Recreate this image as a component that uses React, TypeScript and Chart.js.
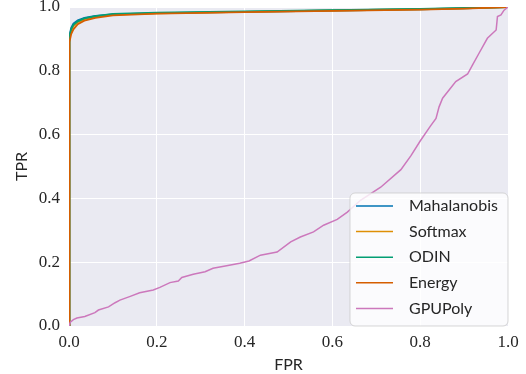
import React, { useEffect, useRef } from "react";
import { Chart, registerables } from "chart.js";

Chart.register(...registerables);

const seriesNames = ["Mahalanobis", "Softmax", "ODIN", "Energy", "GPUPoly"];
const seriesColors = ["#0173B2", "#DE8F05", "#029E73", "#D55E00", "#CC78BC"];

const tickValues = [0, 0.2, 0.4, 0.6, 0.8, 1.0];

const rocFpr = [0, 0, 0.002, 0.005, 0.01, 0.02, 0.035, 0.06, 0.1, 0.2, 0.4, 0.6, 0.8, 0.9, 1];
const mahalanobisTpr = [0, 0.82, 0.91, 0.935, 0.948, 0.958, 0.966, 0.972, 0.977, 0.981, 0.985, 0.989, 0.993, 0.996, 1];
const softmaxTpr = [0, 0.8, 0.9, 0.925, 0.94, 0.952, 0.962, 0.969, 0.976, 0.98, 0.985, 0.989, 0.993, 0.996, 1];
const odinTpr = [0, 0.81, 0.905, 0.93, 0.944, 0.955, 0.964, 0.971, 0.978, 0.982, 0.986, 0.99, 0.994, 0.997, 1];
const energyTpr = [0, 0.79, 0.89, 0.915, 0.93, 0.946, 0.957, 0.966, 0.974, 0.979, 0.984, 0.988, 0.992, 0.995, 1];

const gpuPolyFpr = [
  0, 0.003, 0.01, 0.018, 0.036, 0.059, 0.067, 0.09, 0.105, 0.116, 0.138, 0.161, 0.192, 0.207, 0.23,
  0.249, 0.257, 0.283, 0.31, 0.328, 0.359, 0.389, 0.41, 0.436, 0.474, 0.505, 0.527, 0.557, 0.58,
  0.611, 0.634, 0.664, 0.71, 0.756, 0.779, 0.8, 0.824, 0.836, 0.843, 0.851, 0.881, 0.908, 0.919,
  0.934, 0.953, 0.973, 0.976, 0.984, 0.991, 1.0,
];
const gpuPolyTpr = [
  0, 0.012, 0.02, 0.025, 0.03, 0.042, 0.05, 0.06, 0.073, 0.081, 0.092, 0.104, 0.113, 0.121, 0.136,
  0.141, 0.152, 0.162, 0.17, 0.181, 0.189, 0.197, 0.204, 0.222, 0.232, 0.264, 0.279, 0.295, 0.316,
  0.334, 0.357, 0.394, 0.435, 0.49, 0.534, 0.58, 0.628, 0.651, 0.687, 0.714, 0.766, 0.79, 0.818,
  0.855, 0.902, 0.928, 0.97, 0.975, 0.99, 1.0,
];

const seriesFpr = [rocFpr, rocFpr, rocFpr, rocFpr, gpuPolyFpr];
const seriesTpr = [mahalanobisTpr, softmaxTpr, odinTpr, energyTpr, gpuPolyTpr];

const TEXT = "#262626";

const bgPlugin = {
  id: "plotBg",
  beforeDraw(chart: any) {
    const { ctx, chartArea } = chart;
    ctx.save();
    ctx.fillStyle = "#EAEAF2";
    ctx.fillRect(chartArea.left, chartArea.top, chartArea.right - chartArea.left, chartArea.bottom - chartArea.top);
    ctx.restore();
  },
};

const legendPlugin = {
  id: "innerLegend",
  afterDraw(chart: any) {
    const { ctx, chartArea } = chart;
    const w = 158;
    const h = 133;
    const x = chartArea.right - w;
    const y = chartArea.bottom - h;
    const r = 5;
    ctx.save();
    ctx.beginPath();
    ctx.moveTo(x + r, y);
    ctx.arcTo(x + w, y, x + w, y + h, r);
    ctx.arcTo(x + w, y + h, x, y + h, r);
    ctx.arcTo(x, y + h, x, y, r);
    ctx.arcTo(x, y, x + w, y, r);
    ctx.closePath();
    ctx.fillStyle = "rgba(255,255,255,0.8)";
    ctx.fill();
    ctx.strokeStyle = "rgba(204,204,204,0.8)";
    ctx.lineWidth = 1;
    ctx.stroke();
    ctx.font = "16px Lato";
    ctx.textBaseline = "middle";
    ctx.textAlign = "left";
    seriesNames.forEach((name, i) => {
      const ly = y + 13 + i * 25.6;
      ctx.beginPath();
      ctx.moveTo(x + 6, ly);
      ctx.lineTo(x + 43, ly);
      ctx.strokeStyle = seriesColors[i];
      ctx.lineWidth = 1.5;
      ctx.stroke();
      ctx.fillStyle = TEXT;
      ctx.fillText(name, x + 59, ly);
    });
    ctx.restore();
  },
};

export default function App() {
  const ref = useRef<HTMLCanvasElement | null>(null);
  useEffect(() => {
    if (!ref.current) return;
    const datasets = seriesNames.map((name, i) => ({
      label: name,
      data: seriesFpr[i].map((v, j) => ({ x: v, y: seriesTpr[i][j] })),
      borderColor: seriesColors[i],
      backgroundColor: seriesColors[i],
      borderWidth: i === 4 ? 1.5 : 1.8,
      pointRadius: 0,
      fill: false,
      tension: 0,
      order: 5 - i,
    }));
    const tickFont = { family: "'Liberation Serif', serif", size: 17 };
    const titleFont = { family: "Lato", size: 16 };
    const chart = new Chart(ref.current, {
      type: "line",
      data: { datasets },
      options: {
        animation: false,
        responsive: false,
        maintainAspectRatio: false,
        parsing: true,
        layout: { padding: { left: 0, right: 18, top: 7, bottom: 0 } },
        plugins: { legend: { display: false }, tooltip: { enabled: false } },
        scales: {
          x: {
            type: "linear",
            min: 0,
            max: 1,
            afterFit: (s: any) => {
              s.height = 48;
              s.paddingLeft = 0;
              s.paddingRight = 0;
            },
            afterBuildTicks: (s: any) => {
              s.ticks = tickValues.map((v) => ({ value: v }));
            },
            ticks: {
              font: tickFont,
              color: TEXT,
              padding: 6,
              maxRotation: 0,
              callback: (v: any) => Number(v).toFixed(1),
            },
            grid: { color: "#FFFFFF", lineWidth: 1, drawTicks: false },
            border: { display: false },
            title: { display: true, text: "FPR", font: titleFont, color: TEXT, padding: { top: 3, bottom: 0 } },
          },
          y: {
            type: "linear",
            min: 0,
            max: 1,
            afterFit: (s: any) => {
              s.width = 69;
              s.paddingTop = 0;
              s.paddingBottom = 0;
            },
            afterBuildTicks: (s: any) => {
              s.ticks = tickValues.map((v) => ({ value: v }));
            },
            ticks: {
              font: tickFont,
              color: TEXT,
              padding: 9,
              callback: (v: any) => Number(v).toFixed(1),
            },
            grid: { color: "#FFFFFF", lineWidth: 1, drawTicks: false },
            border: { display: false },
            title: { display: true, text: "TPR", font: titleFont, color: TEXT, padding: { top: 12, bottom: 0 } },
          },
        },
      },
      plugins: [bgPlugin, legendPlugin],
    });
    return () => chart.destroy();
  }, []);
  return (
    <div style={{ position: "fixed", left: 0, top: 0, width: 526, height: 374 }}>
      <canvas ref={ref} width={526} height={374} style={{ width: 526, height: 374 }} />
    </div>
  );
}
